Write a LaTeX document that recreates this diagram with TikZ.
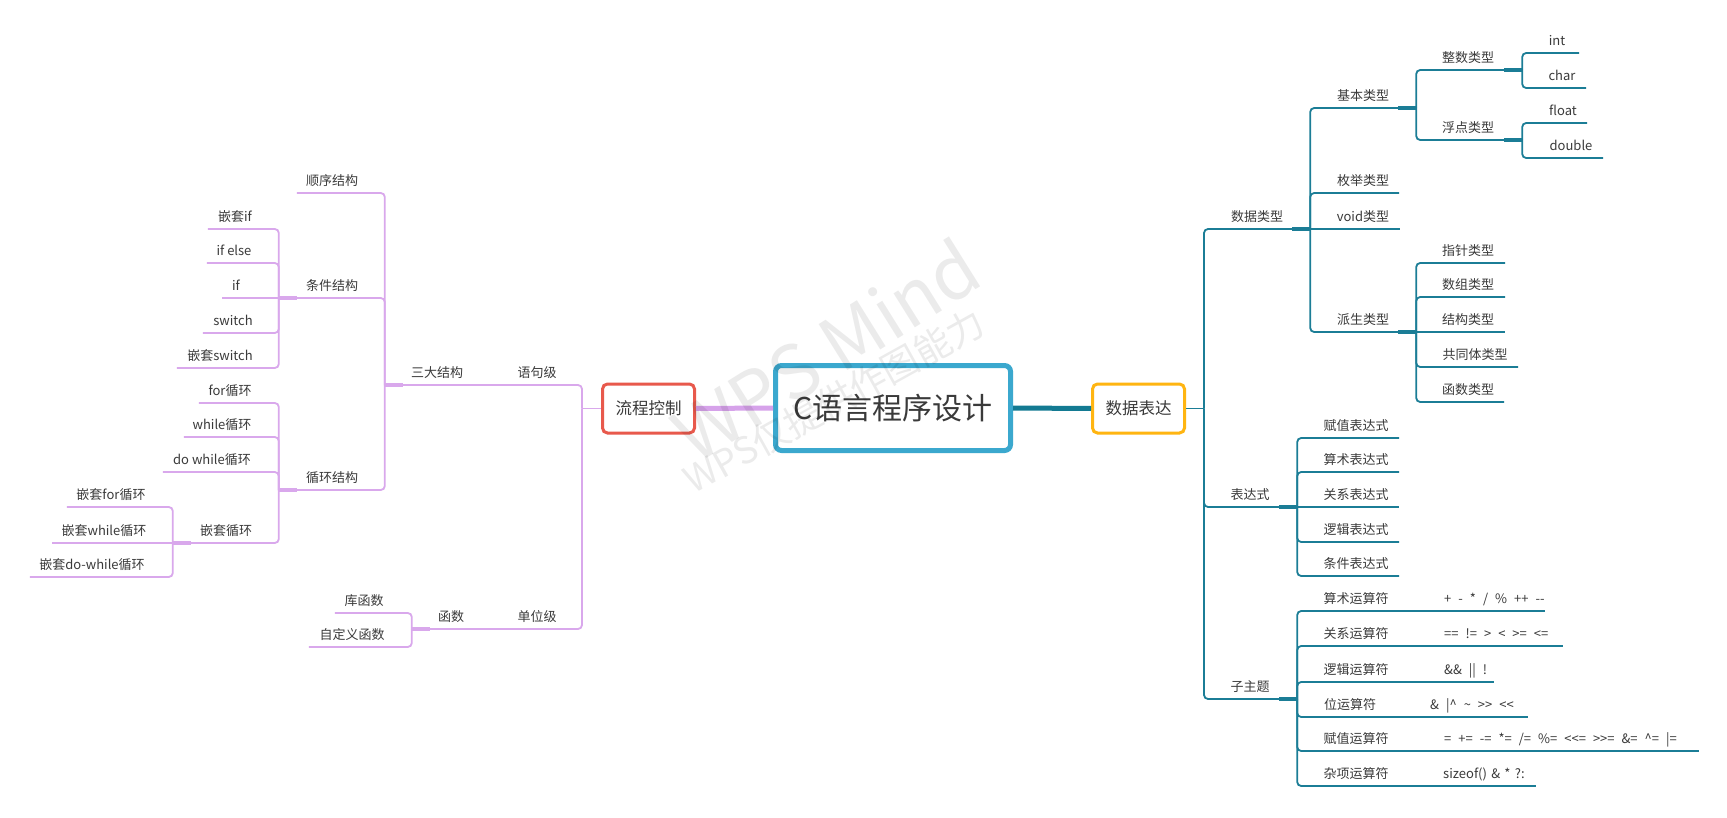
\documentclass[tikz,border=0pt]{standalone}
\usepackage{fontspec}
\newfontfamily\cjk{Noto Sans CJK SC}
\newcommand\opspacing{\spaceskip=7pt\relax}
\definecolor{txt}{HTML}{3A3A3A}
\definecolor{tealline}{HTML}{1B7D96}
\definecolor{tealmain}{HTML}{137A92}
\definecolor{purpleline}{HTML}{D9A8EC}
\definecolor{purplemain}{HTML}{D6A2EA}
\definecolor{mainblue}{HTML}{3BA8CE}
\definecolor{redbox}{HTML}{E8594C}
\definecolor{yellowbox}{HTML}{FFB511}

\begin{document}
\begin{tikzpicture}[x=1pt, y=-1pt,
    topic/.style={anchor=south, inner xsep=0pt, inner ysep=4.5pt, text height=10pt, text depth=3pt, font=\cjk\fontsize{13}{15}\selectfont, text=txt},
    optopic/.style={topic, anchor=south west, align=left},
    rline/.style={draw=tealline, line width=1.8pt, rounded corners=4pt},
    lline/.style={draw=purpleline, line width=1.8pt, rounded corners=4pt},
    rhub/.style={draw=tealline, line width=3.6pt},
    lhub/.style={draw=purpleline, line width=3.6pt},
    subbox/.style={rounded corners=5pt, line width=3pt, fill=white, minimum width=92pt, minimum height=49pt, inner sep=0pt, font=\cjk\fontsize{16.5}{18}\selectfont, text=txt},
    mark text/.style={text=black, opacity=0.08, inner sep=0pt}]
    \useasboundingbox[fill=white] (0,0) rectangle (1727,818);

    % Draw nodes
    \node[draw=mainblue, line width=5pt, rounded corners=6pt, fill=white, minimum width=235pt, minimum height=85pt, font=\cjk\fontsize{30}{36}\selectfont, text=txt] (center) at (893,408) {C语言程序设计};
    \node[subbox, draw=redbox] (lckz) at (648.5,408.5) {流程控制};
    \node[subbox, draw=yellowbox] (sjbd) at (1138.5,408.5) {数据表达};
    \coordinate (ltrunk) at (582,408.5);
    \coordinate (rtrunk) at (1204,408.5);

    % left side
    \node[topic, minimum width=58pt] (yjj) at (537,385) {语句级};
    \node[topic, minimum width=58pt] (dwj) at (537,629) {单位级};
    \node[topic, minimum width=104pt] (sdjg) at (437,385) {三大结构};
    \node[topic, minimum width=78pt] (hs) at (451,629) {函数};
    \node[topic, minimum width=58pt] (kfs) at (364,613) {库函数};
    \node[topic, minimum width=86pt] (zdyhs) at (352,647) {自定义函数};
    \node[topic, minimum width=70pt] (sxjg) at (332,193) {顺序结构};
    \node[topic, minimum width=106pt] (tjjg) at (332,298) {条件结构};
    \node[topic, minimum width=106pt] (xhjg) at (332,490) {循环结构};
    \node[topic, minimum width=54pt] (qtif) at (235,229) {嵌套if};
    \node[topic, minimum width=54pt] (ifelse) at (234,263) {if else};
    \node[topic, minimum width=28pt] (nif) at (236,298) {if};
    \node[topic, minimum width=60pt] (nswitch) at (233,333) {switch};
    \node[topic, minimum width=86pt] (qtswitch) at (220,368) {嵌套switch};
    \node[topic, minimum width=62pt] (forxh) at (230,403) {for循环};
    \node[topic, minimum width=76pt] (whilexh) at (222,437) {while循环};
    \node[topic, minimum width=98pt] (dowhilexh) at (212,472) {do while循环};
    \node[topic, minimum width=106pt] (qtxh) at (226,543) {嵌套循环};
    \node[topic, minimum width=88pt] (qtfor) at (111,507) {嵌套for循环};
    \node[topic, minimum width=104pt] (qtwhile) at (104,543) {嵌套while循环};
    \node[topic, minimum width=124pt] (qtdowhile) at (92,577) {嵌套do-while循环};

    % right side
    \node[topic, minimum width=106pt] (sjlx) at (1257,229) {数据类型};
    \node[topic, minimum width=106pt] (jblx) at (1363,108) {基本类型};
    \node[topic, minimum width=72pt] (mjlx) at (1363,193) {枚举类型};
    \node[topic, minimum width=74pt] (voidlx) at (1363,229) {void类型};
    \node[topic, minimum width=106pt] (pslx) at (1363,332) {派生类型};
    \node[topic, minimum width=108pt] (zslx) at (1468,70) {整数类型};
    \node[topic, minimum width=108pt] (fdlx) at (1468,140) {浮点类型};
    \node[topic, minimum width=44pt] (nint) at (1557,53) {int};
    \node[topic, minimum width=48pt] (nchar) at (1562,88) {char};
    \node[topic, minimum width=48pt] (nfloat) at (1563,123) {float};
    \node[topic, minimum width=64pt] (ndouble) at (1571,158) {double};
    \node[topic, minimum width=74pt] (zzlx) at (1468,263) {指针类型};
    \node[topic, minimum width=74pt] (szlx) at (1468,297) {数组类型};
    \node[topic, minimum width=74pt] (jglx) at (1468,332) {结构类型};
    \node[topic, minimum width=86pt] (gtlx) at (1475,367) {共同体类型};
    \node[topic, minimum width=72pt] (hslx) at (1468,402) {函数类型};
    \node[topic, minimum width=94pt] (bds) at (1250,507) {表达式};
    \node[topic, minimum width=86pt] (fzbds) at (1356,438) {赋值表达式};
    \node[topic, minimum width=86pt] (ssbds) at (1356,472) {算术表达式};
    \node[topic, minimum width=86pt] (gxbds) at (1356,507) {关系表达式};
    \node[topic, minimum width=86pt] (ljbds) at (1356,542) {逻辑表达式};
    \node[topic, minimum width=86pt] (tjbds) at (1356,576) {条件表达式};
    \node[topic, minimum width=94pt] (zzt) at (1250,699) {子主题};
    \node[topic, minimum width=84pt] (ssysf) at (1356,611) {算术运算符};
    \node[topic, minimum width=84pt] (gxysf) at (1356,646) {关系运算符};
    \node[topic, minimum width=84pt] (ljysf) at (1356,682) {逻辑运算符};
    \node[topic, minimum width=70pt] (wysf) at (1350,717) {位运算符};
    \node[topic, minimum width=84pt] (fzysf) at (1356,751) {赋值运算符};
    \node[topic, minimum width=84pt] (zxysf) at (1356,786) {杂项运算符};
    \node[optopic, text width=101pt] (ssop) at (1444,611) {\opspacing + - * / \% ++ -{}-};
    \node[optopic, text width=119pt] (gxop) at (1444,646) {\opspacing == != > < >= <=};
    \node[optopic, text width=50pt] (ljop) at (1444,682) {\opspacing \&\& || !};
    \node[optopic, text width=98pt] (wop) at (1430,717) {\opspacing \& |\textasciicircum{} \textasciitilde{} >{}> <{}<};
    \node[optopic, text width=255pt] (fzop) at (1444,751) {\opspacing = += -= *= /= \%= <{}<= >{}>= \&= \textasciicircum= |=};
    \node[optopic, text width=93pt] (zxop) at (1443,786) {sizeof() \& * ?:};

    % Draw connections
    \draw[purplemain, line width=5pt] (center.west) -- (lckz.east);
    \draw[tealmain, line width=5pt] (center.east) -- (sjbd.west);

    \draw[lline] (lckz.west) -- (ltrunk);
    \draw[lline] (ltrunk) |- (yjj.south west);
    \draw[lline] (ltrunk) |- (dwj.south west);
    \foreach \p/\c in {yjj/sdjg, dwj/hs, tjjg/nif, qtxh/qtwhile}
        \draw[lline] (\p.south west) -- (\c.south west);
    \foreach \p/\c in {sdjg/sxjg, sdjg/tjjg, sdjg/xhjg, hs/kfs, hs/zdyhs,
                       tjjg/qtif, tjjg/ifelse, tjjg/nswitch, tjjg/qtswitch,
                       xhjg/forxh, xhjg/whilexh, xhjg/dowhilexh, xhjg/qtxh,
                       qtxh/qtfor, qtxh/qtdowhile}
        \draw[lline] (\p.south west) |- (\c.south west);

    \draw[rline] (sjbd.east) -- (rtrunk);
    \foreach \c in {sjlx, bds, zzt}
        \draw[rline] (rtrunk) |- (\c.south east);
    \foreach \p/\c in {sjlx/voidlx, pslx/jglx, bds/gxbds,
                       ssysf/ssop, gxysf/gxop, ljysf/ljop, wysf/wop, fzysf/fzop, zxysf/zxop}
        \draw[rline] (\p.south east) -- (\c.south east);
    \foreach \p/\c in {sjlx/jblx, sjlx/mjlx, sjlx/pslx, jblx/zslx, jblx/fdlx,
                       zslx/nint, zslx/nchar, fdlx/nfloat, fdlx/ndouble,
                       pslx/zzlx, pslx/szlx, pslx/gtlx, pslx/hslx,
                       bds/fzbds, bds/ssbds, bds/ljbds, bds/tjbds,
                       zzt/ssysf, zzt/gxysf, zzt/ljysf, zzt/wysf, zzt/fzysf, zzt/zxysf}
        \draw[rline] (\p.south east) |- (\c.south east);

    % hubs
    \foreach \n in {sdjg, tjjg, xhjg, qtxh, hs}
        \draw[lhub] (\n.south west) -- ([xshift=18pt]\n.south west);
    \foreach \n in {sjlx, jblx, zslx, fdlx, pslx, bds, zzt}
        \draw[rhub] ([xshift=-18pt]\n.south east) -- (\n.south east);

    % watermark
    \node[mark text, rotate=32, font=\cjk\fontsize{74}{84}\selectfont] (wmark) at (826,350) {WPS Mind};
    \node[mark text, rotate=29, font=\cjk\fontsize{37}{42}\selectfont] (wsub) at (834,401) {WPS仅提供作图能力};
\end{tikzpicture}
\end{document}
